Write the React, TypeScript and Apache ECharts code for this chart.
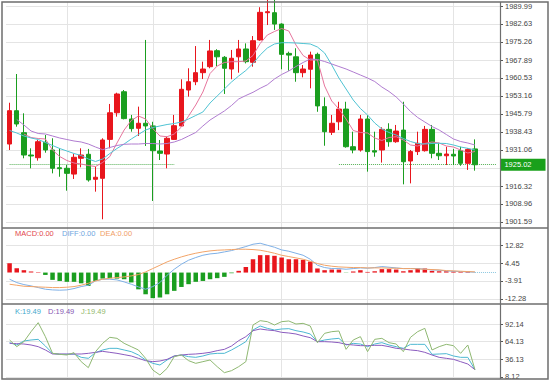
import React, { useEffect, useRef } from 'react';
import * as echarts from 'echarts';

// ---------- data ----------
const categories = [
  '1', '2', '3', '4', '5', '6', '7', '8', '9', '10', '11', '12', '13', '14', '15', '16', '17', '18', '19', '20',
  '21', '22', '23', '24', '25', '26', '27', '28', '29', '30', '31', '32', '33', '34', '35', '36', '37', '38', '39', '40',
  '41', '42', '43', '44', '45', '46', '47', '48', '49', '50', '51', '52', '53', '54', '55', '56', '57', '58', '59', '60',
  '61', '62', '63', '64', '65', '66', '67', '68', '69',
];

const candleOpen = [
  1933.5, 1947.14, 1938.14, 1929.0, 1927.9, 1934.2, 1931.06, 1923.8, 1923.57, 1921.2,
  1927.66, 1929.3, 1919.07, 1919.47, 1935.4, 1946.3, 1954.9, 1943.74, 1939.94, 1942.0,
  1940.9, 1930.65, 1929.4, 1935.4, 1940.9, 1955.6, 1959.0, 1962.7, 1965.15, 1971.7,
  1969.0, 1964.2, 1969.2, 1972.4, 1966.95, 1976.1, 1987.25, 1987.25, 1982.6, 1970.6,
  1969.2, 1962.7, 1964.1, 1970.2, 1948.8, 1938.3, 1942.6, 1947.8, 1932.4, 1931.06,
  1943.74, 1930.77, 1931.06, 1939.5, 1934.45, 1939.2, 1926.55, 1930.4, 1930.77, 1939.5,
  1929.7, 1928.7, 1929.3, 1930.77, 1925.6, 1931.5,
];
const candleClose = [
  1947.15, 1941.7, 1929.0, 1928.6, 1934.45, 1931.06, 1923.57, 1923.4, 1921.5, 1928.07,
  1929.0, 1918.8, 1919.9, 1935.15, 1946.3, 1953.98, 1943.9, 1939.8, 1942.0, 1940.9,
  1930.77, 1929.7, 1935.85, 1941.0, 1955.9, 1959.0, 1962.7, 1964.2, 1971.6, 1969.2,
  1964.5, 1968.6, 1972.4, 1967.2, 1975.8, 1987.4, 1987.66, 1982.6, 1970.2, 1969.9,
  1962.7, 1964.2, 1969.9, 1949.1, 1938.55, 1942.0, 1947.8, 1932.4, 1931.06, 1943.74,
  1930.4, 1930.2, 1939.5, 1934.45, 1938.8, 1926.25, 1930.4, 1933.8, 1939.5, 1929.7,
  1928.7, 1929.4, 1928.6, 1925.6, 1931.3, 1925.02,
];
const candleLow = [
  1931.06, 1940.6, 1927.66, 1923.57, 1926.7, 1929.95, 1921.5, 1920.1, 1914.4, 1919.2,
  1923.97, 1918.1, 1914.0, 1902.7, 1931.75, 1944.7, 1943.6, 1938.55, 1936.8, 1932.7,
  1910.2, 1926.96, 1923.57, 1935.15, 1940.6, 1952.9, 1957.6, 1960.1, 1964.5, 1965.4,
  1954.0, 1960.0, 1962.7, 1966.5, 1965.15, 1975.8, 1982.2, 1980.2, 1964.1, 1963.5,
  1959.0, 1960.8, 1956.3, 1946.7, 1932.8, 1937.2, 1939.2, 1932.0, 1929.7, 1930.4,
  1922.2, 1928.3, 1925.9, 1932.4, 1934.0, 1917.0, 1917.4, 1929.0, 1930.4, 1927.66,
  1926.96, 1924.9, 1924.9, 1924.6, 1922.9, 1922.6,
];
const candleHigh = [
  1950.4, 1962.16, 1946.08, 1931.75, 1935.15, 1937.2, 1935.85, 1931.75, 1924.9, 1929.4,
  1931.75, 1931.5, 1924.2, 1935.85, 1949.9, 1954.5, 1955.6, 1945.4, 1948.8, 1976.1,
  1942.6, 1935.15, 1936.5, 1945.4, 1960.0, 1964.5, 1973.6, 1967.2, 1976.1, 1972.3,
  1969.5, 1972.0, 1976.1, 1974.7, 1977.7, 1989.5, 1993.0, 1993.0, 1982.9, 1971.3,
  1972.7, 1965.85, 1971.3, 1970.9, 1952.6, 1945.4, 1950.8, 1950.8, 1938.55, 1945.4,
  1945.4, 1938.55, 1940.35, 1942.0, 1941.3, 1950.8, 1931.06, 1938.55, 1940.9, 1941.3,
  1934.0, 1932.4, 1931.5, 1932.4, 1931.75, 1935.4,
];

const ma5 = [
  null, null, 1937.6, 1936.17, 1935.76, 1935.56, 1931.05, 1928.39, 1926.76, 1925.73,
  1925.32, 1924.71, 1924.3, 1925.94, 1928.39, 1933.92, 1939.24, 1943.13, 1944.97, 1943.74,
  1939.85, 1936.79, 1936.5, 1937.6, 1940.47, 1944.97, 1949.47, 1954.79, 1962.37, 1965.44,
  1966.87, 1967.2, 1967.2, 1967.48, 1969.73, 1974.65, 1978.12, 1979.56, 1980.78, 1979.76,
  1974.03, 1969.73, 1967.89, 1967.89, 1957.25, 1951.11, 1947.84, 1943.74, 1939.04, 1938.22,
  1938.01, 1935.97, 1934.94, 1936.17, 1936.5, 1935.15, 1933.1, 1932.69, 1933.72, 1934.33,
  1933.92, 1932.69, 1932.28, 1931.05, 1929.83, 1930.44,
];
const ma10 = [
  1939.04, 1938.01, 1936.79, 1935.97, 1935.35, 1934.12, 1932.9, 1931.67, 1930.65, 1929.62,
  1928.8, 1927.37, 1926.35, 1927.37, 1929.62, 1931.67, 1933.51, 1935.56, 1937.4, 1939.24,
  1940.26, 1940.88, 1941.49, 1941.9, 1942.52, 1943.74, 1945.18, 1946.61, 1950.29, 1953.16,
  1956.02, 1958.89, 1961.34, 1963.59, 1966.46, 1969.94, 1972.8, 1974.44, 1974.97, 1974.97,
  1974.85, 1974.65, 1974.44, 1973.21, 1970.76, 1965.85, 1960.52, 1956.02, 1951.52, 1948.04,
  1945.38, 1942.11, 1939.65, 1938.22, 1937.19, 1935.76, 1934.53, 1933.72, 1933.51, 1933.72,
  1933.8, 1933.72, 1933.1, 1932.28, 1931.75, 1931.05,
];
const ma20 = [
  null, 1943.54, 1941.29, 1938.83, 1937.81, 1937.6, 1936.79, 1935.97, 1935.35, 1934.74,
  1934.33, 1933.51, 1932.28, 1931.18, 1932.08, 1932.9, 1933.39, 1933.51, 1933.51, 1933.72,
  1933.72, 1933.51, 1933.72, 1934.33, 1935.35, 1936.79, 1938.22, 1940.88, 1943.33, 1945.18,
  1947.02, 1949.27, 1951.93, 1953.36, 1954.67, 1956.31, 1957.74, 1960.12, 1961.96, 1963.39,
  1965.23, 1966.87, 1968.3, 1968.1, 1967.28, 1966.25, 1965.23, 1964.21, 1962.98, 1961.75,
  1960.52, 1959.09, 1956.84, 1955.0, 1952.75, 1949.88, 1946.81, 1944.36, 1942.52, 1940.67,
  1939.24, 1937.4, 1935.56, 1934.53, 1933.92, 1933.1,
];

const macdHist = [
  4.3, 2.0, 1.1, 0.5, 0.2, -1.1, -3.4, -3.9, -4.3, -4.3,
  -5.0, -6.2, -3.9, -2.8, -2.6, -2.8, -3.1, -4.6, -7.8, -10.1,
  -11.9, -11.6, -10.1, -8.5, -6.7, -5.4, -4.3, -3.9, -3.1, -2.6,
  -2.0, -0.3, 0.8, 2.6, 6.2, 8.1, 8.1, 7.8, 7.0, 6.2,
  6.2, 5.9, 5.1, 1.9, 1.1, 1.4, 1.4, -0.1, 0.5, 1.1,
  0.3, 0.6, 1.6, 1.6, 1.4, 0.6, 1.1, 1.9, 1.9, 0.8,
  0.6, 0.6, 0.5, 0.3, 0.5, 0.0,
];
const diffLine = [
  -3.1, -4.65, -5.58, -6.2, -6.98, -7.75, -8.06, -8.2, -8.06, -7.44,
  -6.51, -5.89, -3.88, -3.1, -3.1, -3.41, -4.34, -5.43, -6.67, -7.75,
  -6.51, -4.65, -1.24, 1.55, 3.88, 5.74, 6.98, 8.06, 8.68, 8.99,
  9.61, 10.23, 11.16, 12.09, 13.18, 13.64, 12.71, 11.78, 10.54, 9.92,
  8.99, 8.06, 6.2, 3.41, 2.33, 1.86, 1.86, 1.55, 1.86, 2.17,
  2.02, 2.33, 2.79, 2.48, 2.17, 1.86, 1.86, 1.86, 1.55, 1.24,
  1.09, 0.78, 0.62, 0.47, 0.31, 0.16,
];
const deaLine = [
  -5.43, -5.89, -6.36, -6.51, -6.67, -6.82, -6.98, -6.98, -6.82, -6.51,
  -5.89, -4.96, -3.88, -3.1, -2.64, -2.33, -2.02, -1.55, -0.93, 0.31,
  1.86, 3.41, 4.96, 6.2, 7.29, 8.22, 8.99, 9.61, 10.08, 10.39,
  10.54, 10.7, 10.85, 10.85, 10.7, 10.39, 9.77, 8.99, 8.06, 7.44,
  6.82, 6.2, 5.27, 4.19, 3.41, 2.95, 2.64, 2.48, 2.33, 2.33,
  2.17, 2.17, 2.17, 2.02, 2.02, 1.86, 1.86, 1.71, 1.55, 1.4,
  1.24, 0.93, 0.78, 0.62, 0.47, 0.31,
];

const kLine = [
  62.44, 58.72, 65.09, 66.68, 67.74, 57.13, 45.46, 43.87, 43.87, 44.4,
  39.09, 37.5, 46.52, 50.77, 53.42, 53.42, 50.77, 48.11, 42.81, 34.85,
  29.54, 26.89, 34.85, 41.22, 42.81, 40.16, 39.09, 41.22, 44.4, 45.46,
  45.46, 50.77, 57.13, 64.03, 82.6, 88.96, 85.25, 82.6, 84.19, 84.72,
  81.53, 79.41, 76.23, 64.03, 66.68, 68.27, 69.33, 58.72, 61.38, 60.31,
  56.07, 60.31, 62.44, 58.72, 56.07, 53.42, 59.78, 59.78, 59.78, 43.87,
  44.4, 44.93, 41.22, 39.09, 39.09, 19.49,
];
const dLine = [
  61.38, 60.85, 60.31, 58.72, 56.07, 50.77, 44.4, 44.4, 44.4, 44.4,
  44.4, 45.46, 47.05, 48.64, 47.05, 45.46, 43.34, 41.22, 37.5, 33.79,
  32.2, 33.26, 35.91, 41.22, 42.81, 43.87, 44.4, 45.46, 47.05, 49.7,
  51.83, 57.13, 65.62, 71.99, 81.53, 84.19, 82.6, 81.53, 78.88, 77.82,
  76.23, 73.05, 70.39, 64.03, 64.03, 63.5, 62.44, 59.78, 58.72, 57.66,
  57.66, 58.19, 58.19, 56.07, 53.42, 52.36, 50.77, 49.7, 47.05, 42.81,
  39.09, 37.5, 35.91, 32.2, 28.48, 19.49,
];
const jLine = [
  66.68, 56.07, 64.03, 79.94, 94.27, 71.99, 45.46, 43.87, 42.81, 46.52,
  32.2, 22.65, 48.11, 61.38, 70.93, 69.33, 61.38, 56.07, 50.77, 37.5,
  18.93, 10.98, 21.59, 40.16, 42.81, 33.79, 29.54, 32.2, 34.85, 24.24,
  14.69, 17.87, 24.24, 32.2, 90.55, 97.45, 95.86, 90.55, 95.86, 96.92,
  92.14, 93.2, 88.96, 62.44, 77.29, 79.94, 81.0, 51.83, 66.68, 71.99,
  48.11, 67.74, 69.33, 62.44, 60.31, 48.11, 70.93, 79.94, 85.25, 50.77,
  56.07, 59.78, 57.66, 45.46, 58.72, 19.49,
];

const priceTicks = [1901.59, 1908.96, 1916.32, 1923.69, 1931.06, 1938.43, 1945.79, 1953.16, 1960.53, 1967.89, 1975.26, 1982.63, 1989.99];
const priceLabels = [1901.59, 1908.96, 1916.32, 1931.06, 1938.43, 1945.79, 1953.16, 1960.53, 1967.89, 1975.26, 1982.63, 1989.99];
const macdTicks = [-12.28, -3.91, 4.45, 12.82];
const kdjTicks = [8.12, 36.13, 64.13, 92.14];
const lastPrice = 1925.02;
const vGridIdx = [8, 20, 38, 50, 62];

// ---------- styles ----------
const RED = '#e8161d';
const GREEN = '#1a9e1f';
const FONT = '"Liberation Sans", Arial, sans-serif';
const FS = 7.5;
const GRID_COLOR = '#e4e4e4';

const vGridMark = {
  symbol: 'none',
  silent: true,
  z: 1,
  label: { show: false },
  lineStyle: { color: GRID_COLOR, type: 'solid', width: 1 },
  data: vGridIdx.map((i) => ({ xAxis: i })),
};

function yAxisCfg(gridIndex: number, min: number, max: number, ticks: number[], labels: number[]) {
  return {
    gridIndex,
    type: 'value',
    position: 'right',
    min,
    max,
    axisLine: { show: false },
    axisTick: { show: true, length: 3, lineStyle: { color: '#555' }, customValues: ticks },
    axisLabel: {
      color: '#444',
      fontSize: FS,
      fontFamily: FONT,
      margin: 5,
      customValues: labels,
      formatter: (v: number) => v.toFixed(2),
    },
    splitLine: { show: true, lineStyle: { color: GRID_COLOR, width: 1 } },
  };
}

function xAxisCfg(gridIndex: number) {
  return {
    gridIndex,
    type: 'category',
    data: categories,
    boundaryGap: true,
    axisLine: { show: false },
    axisTick: { show: false },
    axisLabel: { show: false },
    splitLine: { show: false },
  };
}

function buildOption() {
  const candleData = candleOpen.map((o, i) => [o, candleClose[i], candleLow[i], candleHigh[i]]);
  const lastIdx = categories.length - 1;
  const legendText = (text: string, x: number, y: number, color: string) => ({
    type: 'text',
    x,
    y,
    z: 100,
    style: { text, fill: color, fontSize: FS, fontFamily: FONT, verticalAlign: 'middle' },
  });
  const priceLabel = {
    show: true,
    position: 'end',
    distance: 4,
    formatter: lastPrice.toFixed(2),
    color: '#ffffff',
    backgroundColor: '#19a01b',
    fontSize: FS,
    fontFamily: FONT,
    padding: [2, 14, 2, 4],
  };
  return {
    animation: false,
    backgroundColor: '#ffffff',
    grid: [
      { left: 6, top: 2, width: 494, height: 226 },
      { left: 6, top: 228, width: 494, height: 76 },
      { left: 6, top: 304, width: 494, height: 75 },
    ],
    xAxis: [xAxisCfg(0), xAxisCfg(1), xAxisCfg(2)],
    yAxis: [
      yAxisCfg(0, 1899.13, 1991.63, priceTicks, priceLabels),
      yAxisCfg(1, -14.62, 20.73, macdTicks, macdTicks),
      yAxisCfg(2, 4.61, 123.97, kdjTicks, kdjTicks),
    ],
    series: [
      {
        type: 'candlestick',
        xAxisIndex: 0,
        yAxisIndex: 0,
        data: candleData,
        barWidth: 5,
        clip: true,
        itemStyle: { color: RED, color0: GREEN, borderColor: RED, borderColor0: GREEN, borderWidth: 1 },
        markLine: {
          symbol: 'none',
          silent: true,
          z: 1,
          label: { show: false },
          lineStyle: { color: '#55b055', type: 'dotted', width: 1 },
          data: [
            ...vGridIdx.map((i) => ({ xAxis: i, lineStyle: { color: GRID_COLOR, type: 'solid', width: 1 } })),
            [{ coord: [0, lastPrice] }, { coord: [23, lastPrice] }],
            [{ coord: [46, lastPrice], label: priceLabel }, { coord: [lastIdx, lastPrice], label: priceLabel }],
          ],
        },
      },
      { type: 'line', name: 'MA5', xAxisIndex: 0, yAxisIndex: 0, data: ma5, symbol: 'none', lineStyle: { color: '#e6759d', width: 1 }, itemStyle: { color: '#e6759d' } },
      { type: 'line', name: 'MA10', xAxisIndex: 0, yAxisIndex: 0, data: ma10, symbol: 'none', lineStyle: { color: '#4fc3d3', width: 1 }, itemStyle: { color: '#4fc3d3' } },
      { type: 'line', name: 'MA20', xAxisIndex: 0, yAxisIndex: 0, data: ma20, symbol: 'none', lineStyle: { color: '#b07cd0', width: 1 }, itemStyle: { color: '#b07cd0' } },
      {
        type: 'bar',
        name: 'MACD',
        xAxisIndex: 1,
        yAxisIndex: 1,
        data: macdHist,
        barWidth: 4.5,
        itemStyle: { color: (p: any) => (p.value >= 0 ? RED : GREEN) },
        markLine: {
          symbol: 'none',
          silent: true,
          z: 1,
          label: { show: false },
          lineStyle: { color: '#8cc8e0', type: 'dotted', width: 1 },
          data: [
            ...vGridIdx.map((i) => ({ xAxis: i, lineStyle: { color: GRID_COLOR, type: 'solid', width: 1 } })),
            [{ coord: [65, 0] }, { coord: [lastIdx, 0] }],
          ],
        },
      },
      { type: 'line', name: 'DIFF', xAxisIndex: 1, yAxisIndex: 1, data: diffLine, symbol: 'none', lineStyle: { color: '#7fb0e6', width: 1 }, itemStyle: { color: '#7fb0e6' } },
      { type: 'line', name: 'DEA', xAxisIndex: 1, yAxisIndex: 1, data: deaLine, symbol: 'none', lineStyle: { color: '#f2a468', width: 1 }, itemStyle: { color: '#f2a468' } },
      { type: 'line', name: 'K', xAxisIndex: 2, yAxisIndex: 2, data: kLine, symbol: 'none', lineStyle: { color: '#4db8d2', width: 1 }, itemStyle: { color: '#4db8d2' }, markLine: vGridMark },
      { type: 'line', name: 'D', xAxisIndex: 2, yAxisIndex: 2, data: dLine, symbol: 'none', lineStyle: { color: '#8b5cbf', width: 1 }, itemStyle: { color: '#8b5cbf' } },
      { type: 'line', name: 'J', xAxisIndex: 2, yAxisIndex: 2, data: jLine, symbol: 'none', lineStyle: { color: '#8fb872', width: 1 }, itemStyle: { color: '#8fb872' } },
    ],
    graphic: [
      { type: 'rect', z: 100, shape: { x: 2, y: 2, width: 546, height: 377 }, style: { fill: 'none', stroke: '#6e6e6e', lineWidth: 1.5 } },
      { type: 'line', z: 100, shape: { x1: 2, y1: 228, x2: 548, y2: 228 }, style: { stroke: '#6e6e6e', lineWidth: 1.5 } },
      { type: 'line', z: 100, shape: { x1: 2, y1: 304, x2: 548, y2: 304 }, style: { stroke: '#6e6e6e', lineWidth: 1.5 } },
      { type: 'line', z: 100, shape: { x1: 500.5, y1: 2, x2: 500.5, y2: 379 }, style: { stroke: '#6e6e6e', lineWidth: 1.2 } },
      legendText('MACD:0.00', 15, 233, '#e2474d'),
      legendText('DIFF:0.00', 62, 233, '#6ea6e0'),
      legendText('DEA:0.00', 100, 233, '#f09e66'),
      legendText('K:19.49', 15, 311, '#3fa9cc'),
      legendText('D:19.49', 48, 311, '#8557b3'),
      legendText('J:19.49', 81, 311, '#92b86a'),
    ],
  };
}

export default function App() {
  const ref = useRef<HTMLDivElement>(null);
  useEffect(() => {
    if (!ref.current) return;
    const chart = echarts.init(ref.current, null, { renderer: 'svg' });
    chart.setOption(buildOption() as any);
    return () => chart.dispose();
  }, []);
  return (
    <div
      ref={ref}
      style={{ position: 'fixed', left: 0, top: 0, width: 552, height: 383, background: '#ffffff' }}
    />
  );
}
